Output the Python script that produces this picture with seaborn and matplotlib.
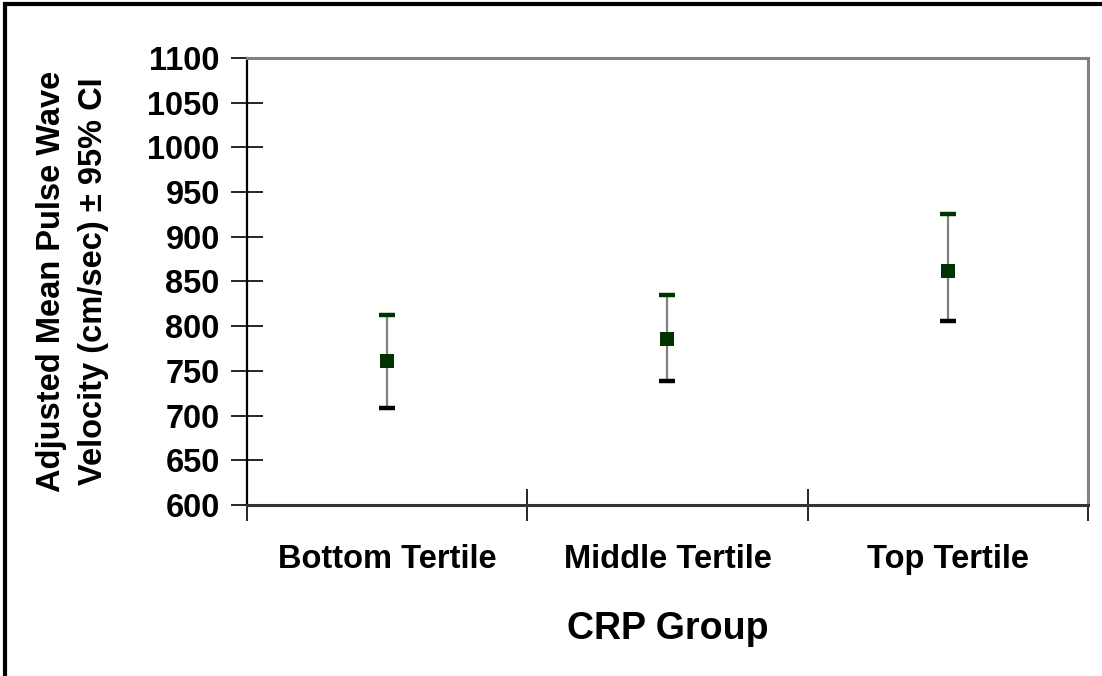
import matplotlib
matplotlib.use("Agg")
import matplotlib.pyplot as plt
from matplotlib.patches import Rectangle
from matplotlib.ticker import FixedLocator, MultipleLocator
import seaborn as sns
import pandas as pd

# CRP tertile groups and adjusted mean PWV with 95% CI bounds (cm/sec)
groups = ["Bottom Tertile", "Middle Tertile", "Top Tertile"]
mean_pwv = [761, 786, 862]
ci_low = [709, 739, 806]
ci_high = [813, 835, 925]

sns.set_theme(style="white")
plt.rcParams["font.family"] = ["Liberation Sans", "DejaVu Sans"]
plt.rcParams["font.weight"] = "bold"
for key in ["text.color", "axes.labelcolor", "xtick.color", "ytick.color"]:
    plt.rcParams[key] = "#000000"

df = pd.DataFrame({"group": groups, "pwv": mean_pwv, "lo": ci_low, "hi": ci_high})

fig = plt.figure(figsize=(11.02, 6.76), dpi=100)
ax = fig.add_axes([0.2241, 0.253, 0.7632, 0.6612])

pos = list(range(len(groups)))

# CI whiskers
ax.vlines(pos, df["lo"], df["hi"], color="#808080", linewidth=1.6, zorder=2)
# caps: upper green, lower black
ax.scatter(pos, df["hi"], marker="_", s=135, linewidths=3.2, color="#003300", zorder=3)
ax.scatter(pos, df["lo"], marker="_", s=135, linewidths=3.2, color="#000000", zorder=3)

# means
sns.scatterplot(data=df, x="group", y="pwv", marker="s", s=90, color="#003300",
                edgecolor="#003300", linewidth=0, ax=ax, zorder=4, legend=False)

ax.set_xlim(-0.5, len(groups) - 0.5)
ax.set_ylim(600, 1100)

# y axis
ax.yaxis.set_major_locator(MultipleLocator(50))
ax.tick_params(axis="y", which="major", direction="inout", length=23, width=1.2,
               color="#000000", labelsize=23.5, pad=8, left=True)
for lbl in ax.get_yticklabels():
    lbl.set_fontweight("bold")

# x axis: tick marks on group boundaries, labels at group centres
ax.xaxis.set_major_locator(FixedLocator([-0.5, 0.5, 1.5, 2.5]))
ax.xaxis.set_minor_locator(FixedLocator(pos))
ax.set_xticklabels([], minor=False)
ax.set_xticklabels(groups, minor=True, fontsize=23.5, fontweight="bold")
ax.tick_params(axis="x", which="major", direction="inout", length=23, width=1.2,
               color="#000000", bottom=True)
ax.tick_params(axis="x", which="minor", length=0, pad=28, bottom=True)

ax.set_xlabel("CRP Group", fontsize=27, fontweight="bold", labelpad=26)
ax.set_ylabel("Adjusted Mean Pulse Wave\nVelocity (cm/sec) \u00b1 95% CI",
              fontsize=23.5, fontweight="bold", labelpad=28, linespacing=1.45)

for side in ["top", "right"]:
    ax.spines[side].set_color("#808080")
    ax.spines[side].set_linewidth(2.2)
ax.spines["left"].set_color("#000000")
ax.spines["left"].set_linewidth(1.6)
ax.spines["bottom"].set_color("#333333")
ax.spines["bottom"].set_linewidth(2.2)

# outer frame around the chart
fig.patches.append(Rectangle((5 / 1102, -0.05), 1.2, 1 - 4 / 676 + 0.05,
                             transform=fig.transFigure, fill=False,
                             edgecolor="#000000", linewidth=3, zorder=10))

fig.savefig("out.png", dpi=100)
